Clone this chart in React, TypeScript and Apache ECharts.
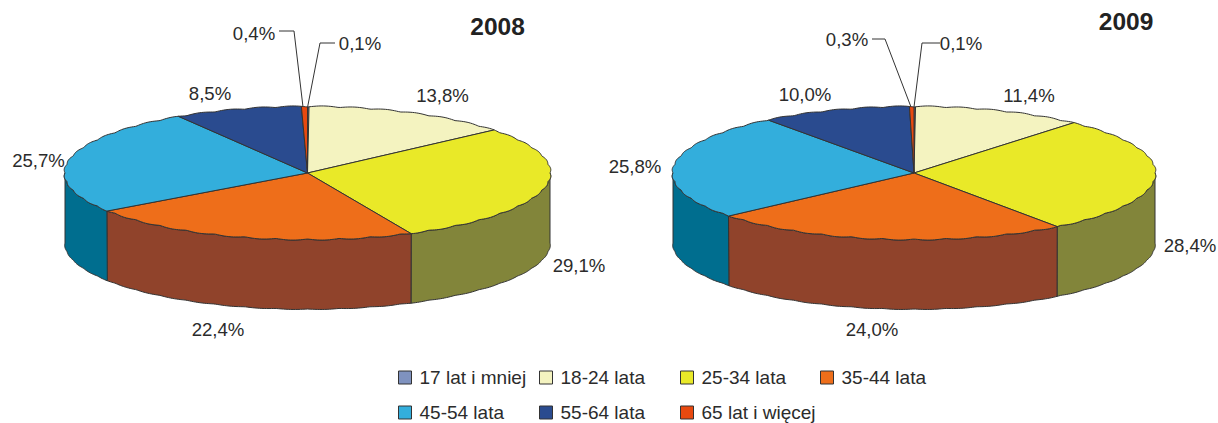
import React, { useEffect, useRef } from "react";
import * as echarts from "echarts";

const categories = ["17 lat i mniej", "18-24 lata", "25-34 lata", "35-44 lata", "45-54 lata", "55-64 lata", "65 lat i więcej"];
const values2008 = [0.1, 13.8, 29.1, 22.4, 25.7, 8.5, 0.4];
const values2009 = [0.1, 11.4, 28.4, 24.0, 25.8, 10.0, 0.3];
const topColors = ["#7F92BF", "#F4F3C0", "#E9E928", "#EE6E1A", "#33AEDC", "#2A4B8F", "#E8490F"];
const wallColors = ["#5F6E90", "#B7B690", "#82853A", "#90432B", "#006E8F", "#1F386B", "#AE370B"];

const FONT = "'Liberation Sans', Arial, sans-serif";
const INK = "#2b2b2b";
const EDGE = "#333333";

const pies = [
  { year: "2008", values: values2008, cx: 307.5, cy: 173, rx: 242.5, ry: 66, depth: 70,
    title: [497.5, 26],
    labels: [[360, 43], [442.5, 95], [579, 265], [218, 329], [38.5, 160], [210, 93], [254, 33]],
    leaders: [
      { i: 0, pts: [[335, 43], [320, 43], [307.6, 107]] },
      { i: 6, pts: [[279, 31], [294, 31], [303, 107]] },
    ] },
  { year: "2009", values: values2009, cx: 914, cy: 173, rx: 241, ry: 66, depth: 70,
    title: [1126, 21],
    labels: [[961, 43], [1029, 95], [1190, 245], [872, 329], [635, 166], [805, 94], [847, 39]],
    leaders: [
      { i: 0, pts: [[940, 43], [922, 43], [914, 107]] },
      { i: 6, pts: [[872, 39], [885, 39], [911, 107]] },
    ] },
];

const legendSlots = [[398, 368], [539, 368], [680, 368], [820, 368], [398, 403], [539, 403], [680, 403]];

const fmt = (v: number) => v.toFixed(1).replace(".", ",") + "%";

// Rim of the pie, with the slight scalloping of the reference's printed edge.
function arc(p: any, a0: number, a1: number, dy: number, bump: number) {
  const pts: number[][] = [];
  const n = Math.max(2, Math.ceil((a1 - a0) / 0.01));
  for (let k = 0; k <= n; k++) {
    const a = a0 + ((a1 - a0) * k) / n;
    const b = bump * Math.abs(Math.sin(24 * a));
    pts.push([p.cx + (p.rx + b) * Math.sin(a), p.cy - (p.ry + b) * Math.cos(a) + dy]);
  }
  return pts;
}

function buildSeries() {
  const out: any[] = [];
  pies.forEach((p) => {
    let cum = 0;
    const total = p.values.reduce((a, b) => a + b, 0);
    p.values.forEach((v, i) => {
      const a0 = (cum / total) * Math.PI * 2;
      cum += v;
      const a1 = (cum / total) * Math.PI * 2;
      out.push({
        type: "custom",
        name: categories[i],
        coordinateSystem: "none",
        silent: true,
        itemStyle: { color: topColors[i], borderColor: EDGE, borderWidth: 1 },
        data: [[v]],
        renderItem: () => {
          const children: any[] = [];
          const w0 = Math.max(a0, Math.PI / 2);
          const w1 = Math.min(a1, (Math.PI * 3) / 2);
          if (w1 > w0) {
            const top = arc(p, w0, w1, 0, 1.2);
            const bottom = arc(p, w0, w1, p.depth, 0.6).reverse();
            children.push({
              type: "polygon",
              shape: { points: top.concat(bottom) },
              style: { fill: wallColors[i], stroke: EDGE, lineWidth: 1 },
            });
          }
          children.push({
            type: "polygon",
            shape: { points: [[p.cx, p.cy], ...arc(p, a0, a1, 0, 1.2)] },
            style: { fill: topColors[i], stroke: EDGE, lineWidth: 1 },
          });
          return { type: "group", children };
        },
      });
    });
  });
  return out;
}

function buildGraphic() {
  const els: any[] = [];
  pies.forEach((p) => {
    els.push({
      type: "text", x: p.title[0], y: p.title[1],
      style: { text: p.year, font: `bold 24.5px ${FONT}`, fill: "#222", align: "center", verticalAlign: "middle" },
    });
    p.values.forEach((v, i) => {
      els.push({
        type: "text", x: p.labels[i][0], y: p.labels[i][1],
        style: { text: fmt(v), font: `18.6px ${FONT}`, fill: INK, align: "center", verticalAlign: "middle" },
      });
    });
    p.leaders.forEach((l) => {
      els.push({
        type: "polyline",
        shape: { points: l.pts },
        style: { stroke: "#333", lineWidth: 1, fill: "none" },
        z: 10,
      });
    });
  });
  return els;
}

export default function App() {
  const ref = useRef<HTMLDivElement>(null);
  useEffect(() => {
    document.body.style.margin = "0";
    const chart = echarts.init(ref.current!, null, { renderer: "svg" });
    chart.setOption({
      animation: false,
      backgroundColor: "#ffffff",
      legend: categories.map((c, i) => ({
        data: [c],
        left: legendSlots[i][0],
        top: legendSlots[i][1],
        padding: 0,
        itemWidth: 13,
        itemHeight: 13,
        itemGap: 0,
        icon: "rect",
        selectedMode: false,
        textStyle: { fontFamily: FONT, fontSize: 19, lineHeight: 16, color: INK, padding: [0, 0, 0, 3] },
        itemStyle: { borderColor: EDGE, borderWidth: 1 },
      })),
      graphic: { elements: buildGraphic() },
      series: buildSeries(),
    });
    return () => chart.dispose();
  }, []);
  return <div ref={ref} style={{ width: 1218, height: 423 }} />;
}
